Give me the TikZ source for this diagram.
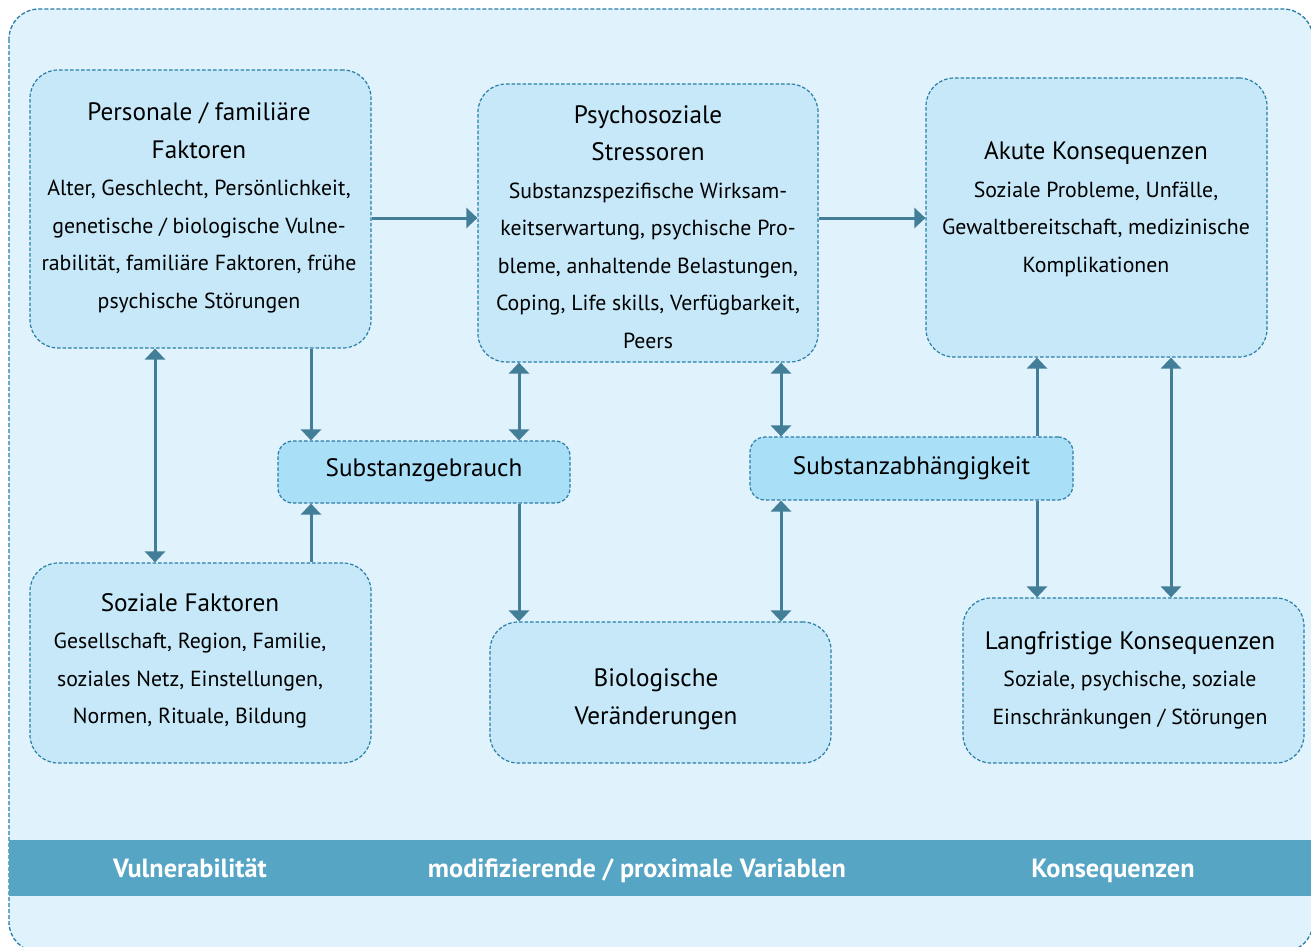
\documentclass[tikz,border=0pt]{standalone}
\usepackage{fontspec}
\setmainfont{PT Sans}
\usetikzlibrary{arrows.meta}
\definecolor{bgc}{HTML}{E0F2FC}
\definecolor{boxc}{HTML}{C6E8F8}
\definecolor{smallc}{HTML}{AADFF8}
\definecolor{borderc}{HTML}{2A7DA6}
\definecolor{arrowc}{HTML}{427E98}
\definecolor{bandc}{HTML}{57A5C5}
\newcommand\mybody{\fontsize{21.8}{37.5}\selectfont}
\newcommand\mytitle{\fontsize{25.2}{37.5}\selectfont}
\tikzset{
  frame/.style={draw=borderc, fill=bgc, line width=1.3pt, dash pattern=on 4pt off 2pt, rounded corners=30pt},
  bigbox/.style={draw=borderc, fill=boxc, line width=1.2pt, dash pattern=on 3.5pt off 2pt, rounded corners=28pt, rectangle, inner sep=0pt},
  smallbox/.style={draw=borderc, fill=smallc, line width=1.2pt, dash pattern=on 3.5pt off 2pt, rounded corners=15pt, rectangle, inner sep=0pt},
  boxtext/.style={align=center, inner sep=0pt, font=\mybody},
  bandtext/.style={text=white, inner sep=0pt, anchor=base, font=\fontsize{26.3}{30}\selectfont\bfseries},
  arr/.style={draw=arrowc, line width=3pt, -{Triangle[length=11pt,width=20pt]}},
  darr/.style={draw=arrowc, line width=3pt, {Triangle[length=11pt,width=20pt]}-{Triangle[length=11pt,width=20pt]}}
}
\begin{document}
\begin{tikzpicture}[x=1pt,y=-1pt]
\useasboundingbox (0,0) rectangle (1311,947);
\begin{scope}
\clip (0,0) rectangle (1311,947);
\path[frame] (9,9) rectangle (1313,952);
\fill[bandc] (9,840) rectangle (1311,896);
\end{scope}

% band labels
\node[bandtext] (v1) at (190,877) {Vulnerabilität};
\node[bandtext] (v2) at (637,877) {modifizierende / proximale Variablen};
\node[bandtext] (v3) at (1113,877) {Konsequenzen};

% boxes
\node[bigbox, minimum width=341pt, minimum height=278pt] (A) at (200.5,209) {};
\node[bigbox, minimum width=340pt, minimum height=278pt] (B) at (648,223) {};
\node[bigbox, minimum width=341pt, minimum height=279pt] (C) at (1096.5,217.5) {};
\node[smallbox, minimum width=292pt, minimum height=62pt] (D) at (424,472) {};
\node[smallbox, minimum width=323pt, minimum height=63pt] (E) at (911.5,468.5) {};
\node[bigbox, minimum width=341pt, minimum height=200pt] (F) at (200.5,663) {};
\node[bigbox, minimum width=341pt, minimum height=141pt] (G) at (660.5,692.5) {};
\node[bigbox, minimum width=341pt, minimum height=165pt] (H) at (1133.5,680.5) {};

% texts
\node[boxtext] (At) at (199,208) {{\mytitle Personale / familiäre}\\{\mytitle Faktoren}\\Alter, Geschlecht, Persönlichkeit,\\genetische / biologische Vulne-\\rabilität, familiäre Faktoren, frühe\\psychische Störungen};
\node[boxtext] (Bt) at (648,227) {{\mytitle Psychosoziale}\\{\mytitle Stressoren}\\Substanzspezifische Wirksam-\\keitserwartung, psychische Pro-\\bleme, anhaltende Belastungen,\\Coping, Life skills, Verfügbarkeit,\\Peers};
\node[boxtext] (Ct) at (1096,209) {{\mytitle Akute Konsequenzen}\\Soziale Probleme, Unfälle,\\Gewaltbereitschaft, medizinische\\Komplikationen};
\node[boxtext, font=\mytitle] (Dt) at (424,470) {Substanzgebrauch};
\node[boxtext, font=\mytitle] (Et) at (911.5,468) {Substanzabhängigkeit};
\node[boxtext] (Ft) at (190,661) {{\mytitle Soziale Faktoren}\\Gesellschaft, Region, Familie,\\soziales Netz, Einstellungen,\\Normen, Rituale, Bildung};
\node[boxtext, font=\mytitle] (Gt) at (656,699) {Biologische\\Veränderungen};
\node[boxtext] (Ht) at (1130,680) {{\mytitle Langfristige Konsequenzen}\\Soziale, psychische, soziale\\Einschränkungen / Störungen};

% arrows
\draw[arr] (A.east |- 0,218) -- (B.west |- 0,218);
\draw[arr] (B.east |- 0,218) -- (C.west |- 0,218);
\draw[arr] (A.south -| 311,0) -- (D.north -| 311,0);
\draw[arr] (F.north -| 311,0) -- (D.south -| 311,0);
\draw[darr] (A.south -| 155,0) -- (F.north -| 155,0);
\draw[darr] (D.north -| 519,0) -- (B.south -| 519,0);
\draw[arr] (D.south -| 519,0) -- (G.north -| 519,0);
\draw[darr] (E.north -| 781,0) -- (B.south -| 781,0);
\draw[darr] (E.south -| 781,0) -- (G.north -| 781,0);
\draw[arr] (E.north -| 1037,0) -- (C.south -| 1037,0);
\draw[arr] (E.south -| 1037,0) -- (H.north -| 1037,0);
\draw[darr] (C.south -| 1171,0) -- (H.north -| 1171,0);
\end{tikzpicture}
\end{document}
